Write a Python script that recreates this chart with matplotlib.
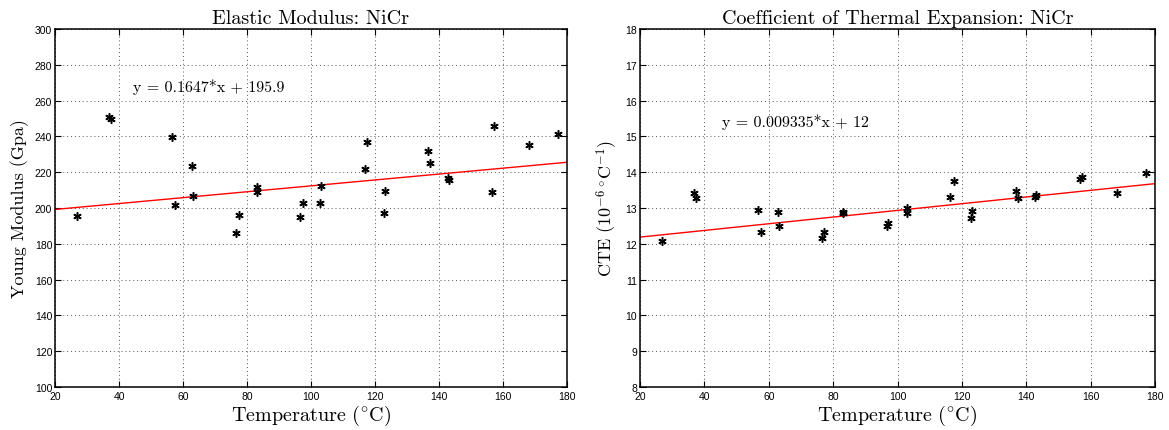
"""Elastic modulus and CTE of NiCr against temperature, with linear fits."""

import matplotlib

matplotlib.use("Agg")
import matplotlib.pyplot as plt  # noqa: E402

# Elastic modulus measurements (temperature in degC, modulus in GPa)
MOD_TEMP = [26.8, 36.9, 37.4, 56.6, 57.6, 62.8, 63.1, 76.7, 77.4, 83.0,
            83.2, 96.7, 97.5, 102.9, 103.2, 116.9, 117.4, 122.7, 123.0,
            136.5, 137.2, 142.8, 143.1, 156.6, 157.2, 168.0, 177.3]
MODULUS = [195.4, 250.7, 249.7, 239.5, 201.7, 223.6, 206.5, 185.9, 196.1,
           209.1, 211.9, 194.8, 203.0, 203.0, 212.3, 221.8, 237.0, 197.0,
           209.3, 231.8, 225.3, 216.9, 215.8, 208.8, 246.0, 235.4, 241.2]
MOD_FIT = (0.1647, 195.9)

# Thermal expansion measurements (temperature in degC, CTE in 1e-6/degC)
CTE_TEMP = [26.9, 36.8, 37.5, 56.8, 57.5, 63.0, 63.3, 76.5, 77.3, 83.0,
            83.2, 96.6, 97.1, 102.9, 103.1, 116.4, 117.5, 122.7, 123.1,
            136.8, 137.5, 142.7, 143.0, 156.7, 157.3, 168.2, 177.3]
CTE = [12.09, 13.42, 13.29, 12.94, 12.32, 12.89, 12.50, 12.17, 12.32,
       12.85, 12.88, 12.51, 12.58, 12.86, 13.00, 13.30, 13.76, 12.73,
       12.92, 13.47, 13.28, 13.32, 13.36, 13.81, 13.86, 13.42, 13.98]
CTE_FIT = (0.009335, 12.0)

X_TICKS = list(range(20, 181, 20))
MOD_TICKS = list(range(100, 301, 20))
CTE_TICKS = list(range(8, 19))

plt.rcParams.update(
    {
        "font.family": ["Liberation Sans", "DejaVu Sans"],
        "mathtext.fontset": "cm",
        "xtick.direction": "in",
        "ytick.direction": "in",
        "xtick.top": True,
        "ytick.right": True,
        "xtick.labelsize": 7.5,
        "ytick.labelsize": 7.5,
        "axes.linewidth": 1.1,
    }
)

SERIF = "cmr10"


def draw_panel(axis, temps, values, fit, yticks, title, ylabel, label_pos):
    slope, intercept = fit
    xs = [X_TICKS[0], X_TICKS[-1]]
    axis.plot(xs, [slope * x + intercept for x in xs], color="red",
              linewidth=1.0, zorder=2)
    axis.plot(temps, values, linestyle="none", marker=(6, 2, 0),
              color="black", markersize=6, markeredgewidth=1.1, zorder=3)
    axis.set_xlim(X_TICKS[0], X_TICKS[-1])
    axis.set_ylim(yticks[0], yticks[-1])
    axis.set_xticks(X_TICKS)
    axis.set_yticks(yticks)
    axis.tick_params(length=4, width=0.8)
    axis.tick_params(axis="x", pad=3)
    axis.tick_params(axis="y", pad=2)
    axis.grid(True, linestyle=(0, (1, 3)), color="#555555", linewidth=0.7)
    axis.set_title(title, family=SERIF, fontsize=14.5, pad=4)
    axis.set_xlabel(r"Temperature ($^{\circ}$C)", family=SERIF,
                    fontsize=14.5, labelpad=1)
    axis.set_ylabel(ylabel, family=SERIF, fontsize=13, labelpad=4)
    sign = "+" if intercept >= 0 else "-"
    text = f"y = {slope:g}*x {sign} {abs(intercept):g}"
    axis.text(label_pos[0], label_pos[1], text, family=SERIF, fontsize=11.5,
              va="center")


figure = plt.figure(figsize=(11.69, 4.31), dpi=100)
left = figure.add_axes([55 / 1169, 1 - 388 / 431, 512 / 1169, 358 / 431])
right = figure.add_axes([640 / 1169, 1 - 388 / 431, 515 / 1169, 358 / 431])

draw_panel(left, MOD_TEMP, MODULUS, MOD_FIT, MOD_TICKS,
           "Elastic Modulus: NiCr", "Young Modulus (Gpa)", (44.5, 268))
draw_panel(right, CTE_TEMP, CTE, CTE_FIT, CTE_TICKS,
           "Coefficient of Thermal Expansion: NiCr",
           r"CTE ($10^{-6}\,^{\circ}$C$^{-1}$)", (45.5, 15.43))

figure.savefig("out.png", dpi=100, facecolor="white")
